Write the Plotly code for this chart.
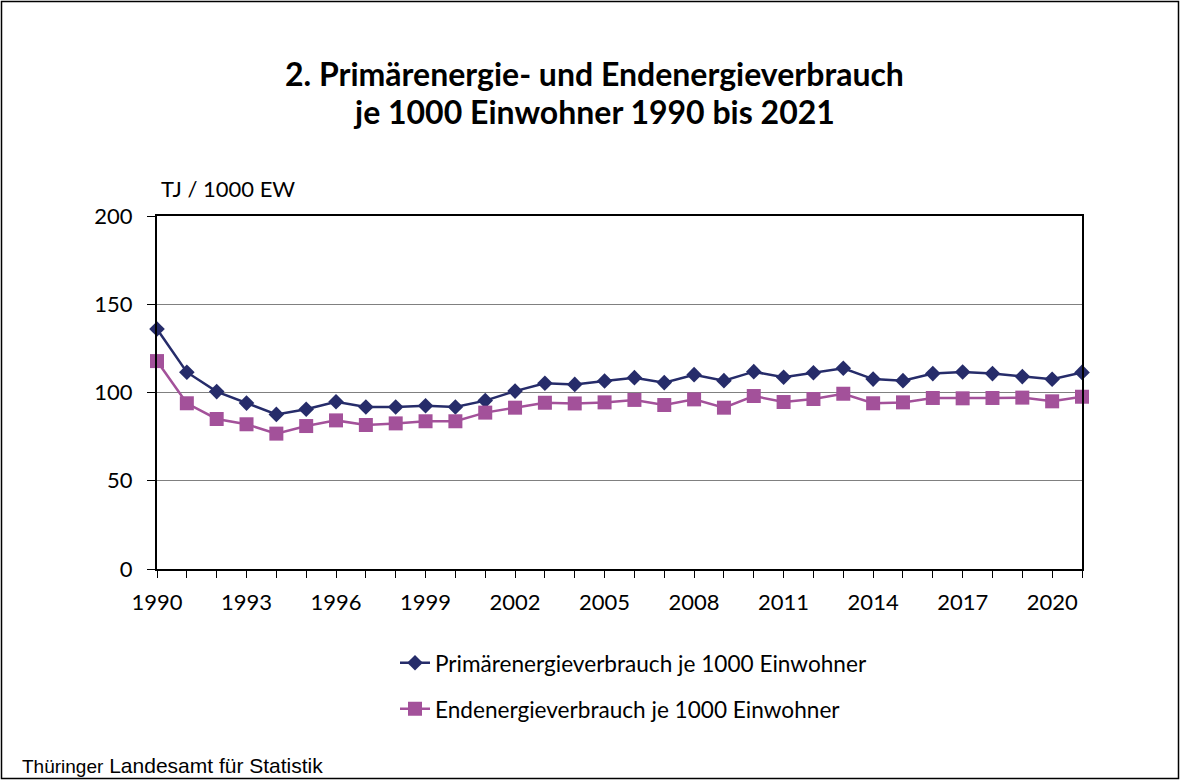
import plotly.graph_objects as go

years = list(range(1990, 2022))
primaer = [136, 111.5, 100.5, 94, 87.6, 90.5, 94.8, 91.8, 91.8, 92.5, 91.8,
           95.4, 100.8, 105.2, 104.6, 106.5, 108.4, 105.6, 110.1, 106.7, 111.8,
           108.6, 111.2, 113.7, 107.6, 106.7, 110.7, 111.6, 110.7, 109, 107.5, 111.4]
ende = [117.8, 93.9, 85, 82, 76.7, 81, 84.2, 81.6, 82.5, 83.7, 83.7,
        88.6, 91.4, 94.2, 93.8, 94.4, 95.8, 92.9, 96.1, 91.4, 98,
        94.6, 96.3, 99.3, 93.9, 94.4, 96.9, 96.7, 96.9, 97.1, 95, 97.6]
x_ticks = list(range(1990, 2022, 3))
y_ticks = [0, 50, 100, 150, 200]

title_line1 = "2. Primärenergie- und Endenergieverbrauch"
title_line2 = "je 1000 Einwohner 1990 bis 2021"
unit_text = "TJ / 1000 EW"
source_a = "Thüringer"
source_b = "Landesamt für Statistik"
name_p = "Primärenergieverbrauch je 1000 Einwohner"
name_e = "Endenergieverbrauch je 1000 Einwohner"

navy = "#262C6A"
purple = "#A3519A"
font_main = "Lato, 'Noto Sans', sans-serif"

W, H = 1180, 780
L, R, T, B = 157, 98, 216, 211
PW, PH = W - L - R, H - T - B

fig = go.Figure()
fig.add_trace(go.Scatter(x=years, y=primaer, mode="lines+markers", name=name_p,
                         line=dict(color=navy, width=2.5),
                         marker=dict(symbol="diamond", size=12, color=navy),
                         cliponaxis=False, legend="legend"))
fig.add_trace(go.Scatter(x=years, y=ende, mode="lines+markers", name=name_e,
                         line=dict(color=purple, width=2.5),
                         marker=dict(symbol="square", size=14, color=purple),
                         cliponaxis=False, legend="legend2"))

fig.update_layout(
    width=W, height=H,
    paper_bgcolor="white", plot_bgcolor="white",
    margin=dict(l=L, r=R, t=T, b=B),
    font=dict(family=font_main, color="black", size=22),
    showlegend=True,
    legend=dict(x=(395 - L) / PW, y=-(663 - 569) / PH, xanchor="left", yanchor="middle",
                font=dict(size=22.6), bgcolor="rgba(0,0,0,0)"),
    legend2=dict(x=(395 - L) / PW, y=-(709 - 569) / PH, xanchor="left", yanchor="middle",
                 font=dict(size=22.6), bgcolor="rgba(0,0,0,0)"),
    xaxis=dict(range=[1990, 2021], tickvals=x_ticks, ticktext=[str(v) for v in x_ticks],
               showgrid=False, zeroline=False, showline=True, linecolor="black", linewidth=2,
               mirror=True, ticks="outside", ticklen=7, tickcolor="black",
               minor=dict(dtick=1, ticks="outside", ticklen=7, tickcolor="black", showgrid=False),
               tickfont=dict(size=22), ticklabelstandoff=6),
    yaxis=dict(range=[0, 200], tickvals=y_ticks, showgrid=True, gridcolor="#808080", gridwidth=1,
               zeroline=False, showline=True, linecolor="black", linewidth=2, mirror=True,
               ticks="outside", ticklen=8, tickcolor="black", tickfont=dict(size=22),
               ticklabelstandoff=10),
)

fig.add_annotation(text="<b>" + title_line1 + "</b>", xref="paper", yref="paper",
                   x=(594 - L) / PW, y=1, yshift=T - 73, xanchor="center", yanchor="middle",
                   showarrow=False, font=dict(size=32, family=font_main))
fig.add_annotation(text="<b>" + title_line2 + "</b>", xref="paper", yref="paper",
                   x=(594 - L) / PW, y=1, yshift=T - 111, xanchor="center", yanchor="middle",
                   showarrow=False, font=dict(size=32, family=font_main))
fig.add_annotation(text=unit_text, xref="paper", yref="paper", x=0, y=1, xshift=2, yshift=T - 188,
                   xanchor="left", yanchor="middle", showarrow=False, font=dict(size=22))
fig.add_annotation(text="<span style='font-size:19px'>" + source_a + "</span> " + source_b,
                   xref="paper", yref="paper", x=0, y=0, xshift=20 - L, yshift=-(765 - (H - B)),
                   xanchor="left", yanchor="middle", showarrow=False,
                   font=dict(size=21, family="'Liberation Sans', Arial, sans-serif"))
fig.add_shape(type="rect", xref="paper", yref="paper",
              x0=(1.5 - L) / PW, x1=(W - 1.5 - L) / PW,
              y0=-(H - 1.5 - (H - B)) / PH, y1=((H - B) - 1.5) / PH,
              line=dict(color="black", width=1.5), fillcolor="rgba(0,0,0,0)", layer="below")

fig.write_html("out.html", config={"displayModeBar": False},
               post_script="document.body.style.margin='0px';document.body.style.overflow='hidden';")
